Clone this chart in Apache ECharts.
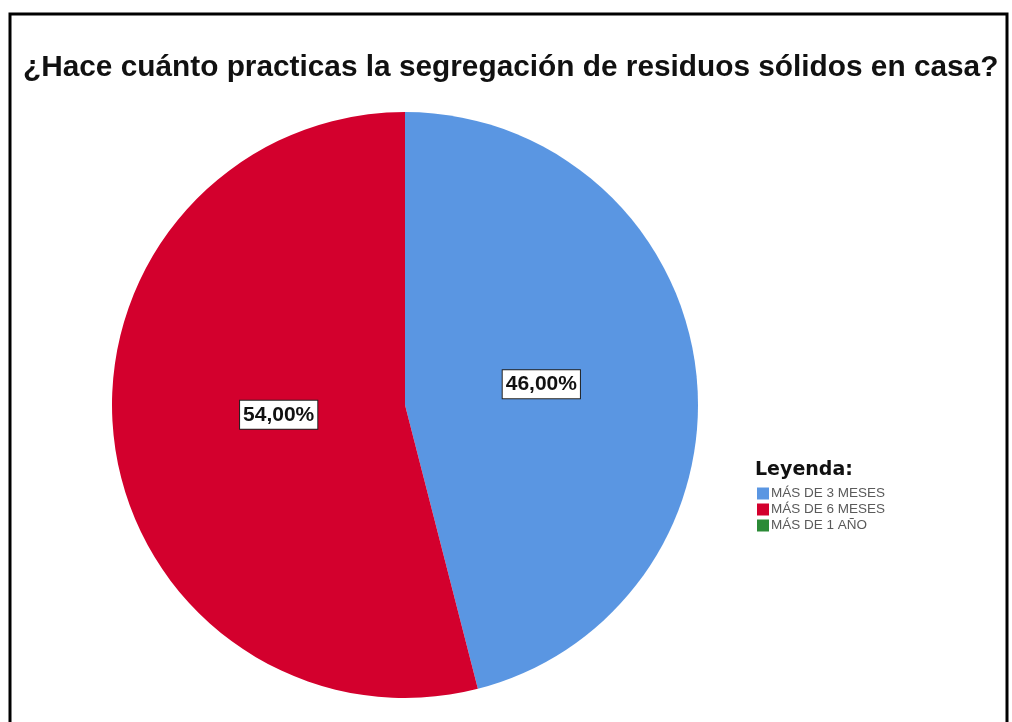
<!DOCTYPE html>
<html>
<head>
<meta charset="utf-8">
<title>Segregación de residuos sólidos</title>
<script src="https://cdn.jsdelivr.net/npm/echarts@6/dist/echarts.min.js"></script>
<style>
  html, body { margin: 0; padding: 0; background: #ffffff; }
  #chart { width: 1012px; height: 722px; }
</style>
</head>
<body>
<div id="chart"></div>
<script>
// Survey answers: how long the household has been separating solid waste
const titleText = '¿Hace cuánto practicas la segregación de residuos sólidos en casa?';
const legendTitle = 'Leyenda:';
const categories = ['MÁS DE 3 MESES', 'MÁS DE 6 MESES', 'MÁS DE 1 AÑO'];
const percentages = [46, 54, 0];
const sliceColors = ['#5a96e2', '#d3002d', '#2b8a36'];

// Nudges that move each percentage box from the default inside spot
const labelOffsets = [[-12, -2], [22, -9], [0, 0]];

const chart = echarts.init(document.getElementById('chart'), null, { renderer: 'canvas' });

const pieData = categories.map((name, i) => ({
  name: name,
  value: percentages[i],
  itemStyle: { color: sliceColors[i] },
  label: { show: percentages[i] > 0, offset: labelOffsets[i] }
}));

chart.setOption({
  backgroundColor: '#ffffff',
  animation: false,
  title: [
    {
      text: titleText,
      left: 18,
      top: 48,
      textStyle: {
        fontFamily: 'Liberation Sans, Arial, sans-serif',
        fontWeight: 'bold',
        fontSize: 29.8,
        color: '#111111'
      }
    },
    {
      text: legendTitle,
      left: 750,
      top: 456,
      textStyle: {
        fontFamily: 'DejaVu Sans, sans-serif',
        fontWeight: 'bold',
        fontSize: 19,
        color: '#111111'
      }
    }
  ],
  legend: {
    orient: 'vertical',
    left: 752,
    top: 481,
    icon: 'rect',
    itemWidth: 12,
    itemHeight: 12,
    itemGap: 1,
    selectedMode: false,
    data: categories,
    textStyle: {
      fontFamily: 'Liberation Sans, Arial, sans-serif',
      fontSize: 13.5,
      lineHeight: 15,
      color: '#5a5a5a',
      padding: [0, 0, 0, -3]
    }
  },
  graphic: [
    {
      type: 'rect',
      shape: { x: 10, y: 14, width: 997, height: 730 },
      style: { fill: 'none', stroke: '#000000', lineWidth: 3 },
      z: 100
    }
  ],
  series: [
    {
      type: 'pie',
      center: [405, 405],
      radius: [0, 293],
      startAngle: 90,
      clockwise: true,
      avoidLabelOverlap: false,
      stillShowZeroSum: true,
      minShowLabelAngle: 0,
      data: pieData,
      itemStyle: { borderWidth: 0 },
      label: {
        position: 'inside',
        formatter: p => p.value.toFixed(2).replace('.', ',') + '%',
        fontFamily: 'Liberation Sans, Arial, sans-serif',
        fontWeight: 'bold',
        fontSize: 21,
        color: '#111111',
        backgroundColor: '#ffffff',
        borderColor: '#222222',
        borderWidth: 1,
        padding: [4, 3, 3, 3]
      },
      labelLine: { show: false },
      emphasis: { disabled: true }
    }
  ]
});
</script>
</body>
</html>
